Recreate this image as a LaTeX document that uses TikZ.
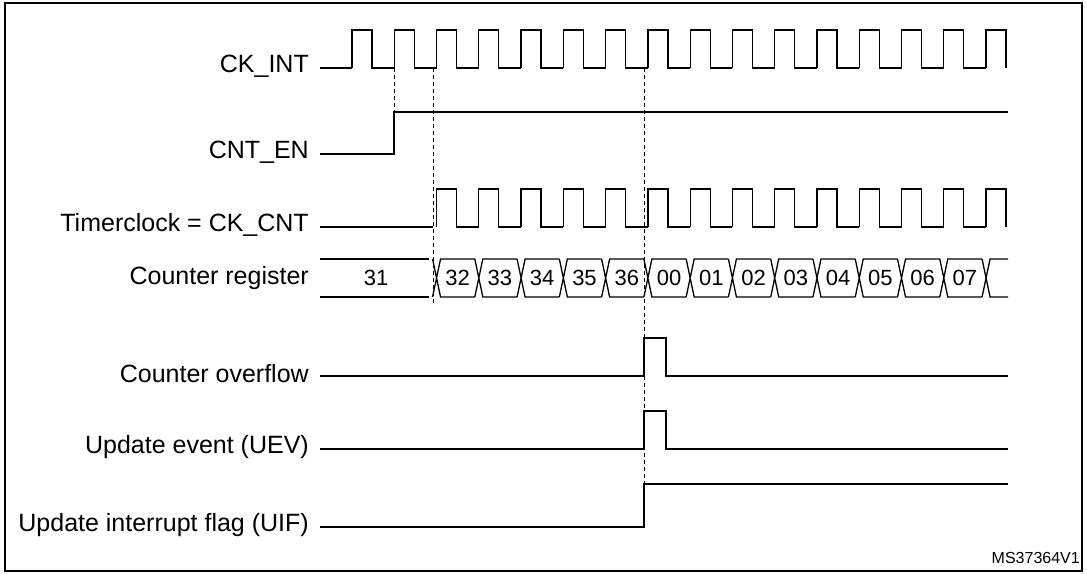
\documentclass[tikz,border=0pt]{standalone}
\usepackage{fontspec}
\setmainfont{Liberation Sans}
\tikzset{>=latex}
\newcommand{\period}{42.27}

\begin{document}
\begin{tikzpicture}[x=1pt,y=-1pt,
    sig/.style={line width=1.3pt,line join=miter},
    guide/.style={dash pattern=on 4pt off 3pt,line width=1pt},
    lbl/.style={anchor=east,inner sep=0pt,font=\fontsize{25}{27}\selectfont},
    val/.style={inner sep=0pt,font=\fontsize{22}{24}\selectfont}]
  % frame
  \useasboundingbox (0,0) rectangle (1087,573);
  \draw[line width=1.5pt] (5,3) rectangle (1082,571);
  % labels
  \node[lbl] (ckint)  at (309,66)  {CK\_INT};
  \node[lbl] (cnten)  at (309,152) {CNT\_EN};
  \node[lbl] (ckcnt)  at (309,225) {Timerclock = CK\_CNT};
  \node[lbl] (cntreg) at (309,278) {Counter register};
  \node[lbl] (ovf)    at (309,374) {Counter overflow};
  \node[lbl] (uev)    at (309,447) {Update event (UEV)};
  \node[lbl] (uif)    at (309,525) {Update interrupt flag (UIF)};
  \node[anchor=south east,inner sep=0pt,font=\fontsize{16}{17}\selectfont] (ref) at (1080,564) {MS37364V1};
  % dashed markers
  \draw[guide] (394,68) -- (394,112);
  \draw[guide] (433,68) -- (433,303);
  \draw[guide] (644,68) -- (644,484);
  % CK_INT
  \draw[sig] (320,68) -- (352,68);
  \foreach \k in {0,...,15}{
    \pgfmathsetmacro{\r}{352+\period*\k}
    \pgfmathsetmacro{\n}{\k<15 ? 352+\period*(\k+1) : \r+20}
    \draw[sig] (\r,68) -- (\r,30) -- (\r+20,30) -- (\r+20,68) -- (\n,68);
  }
  % CNT_EN
  \draw[sig] (320,154) -- (394,154) -- (394,112) -- (1008,112);
  % CK_CNT
  \draw[sig] (320,227) -- (433,227);
  \foreach \k in {2,...,15}{
    \pgfmathsetmacro{\r}{352+\period*\k}
    \pgfmathsetmacro{\n}{\k<15 ? 352+\period*(\k+1) : \r+20}
    \draw[sig] (\r,227) -- (\r,189) -- (\r+20,189) -- (\r+20,227) -- (\n,227);
  }
  % counter register
  \draw[sig] (320,259) -- (429,259) (320,297) -- (429,297);
  \node[val] (v31) at (376,278) {31};
  \foreach \k/\v in {2/32,3/33,4/34,5/35,6/36,7/00,8/01,9/02,10/03,11/04,12/05,13/06,14/07,15/}{
    \pgfmathsetmacro{\t}{352+\period*\k}
    \pgfmathsetmacro{\e}{\k<15 ? 352+\period*(\k+1)-4 : 1008}
    \draw[sig] (\t-4,259) -- (\t+4,297) -- (\e,297) (\t-4,297) -- (\t+4,259) -- (\e,259);
    \node[val] at ({(\t+\e)/2+2},278) {\v};
  }
  % overflow, UEV, UIF
  \draw[sig] (320,376) -- (644,376) -- (644,338) -- (666,338) -- (666,376) -- (1008,376);
  \draw[sig] (320,449) -- (644,449) -- (644,411) -- (666,411) -- (666,449) -- (1008,449);
  \draw[sig] (320,527) -- (644,527) -- (644,484) -- (1008,484);
\end{tikzpicture}
\end{document}
